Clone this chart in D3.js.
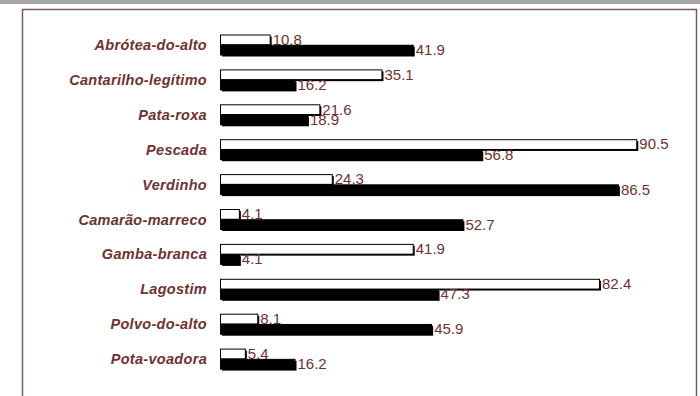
<!DOCTYPE html>
<html>
<head>
<meta charset="utf-8">
<script src="https://cdn.jsdelivr.net/npm/d3@7"></script>
<style>
  body { margin: 0; background: #fff; }
  svg { display: block; font-family: "Liberation Sans", Arial, sans-serif; }
</style>
</head>
<body>
<div id="chart"><svg></svg></div>
<script>
// categories and the two series (white and black bars)
const species = ['Abrótea-do-alto', 'Cantarilho-legítimo', 'Pata-roxa', 'Pescada', 'Verdinho',
  'Camarão-marreco', 'Gamba-branca', 'Lagostim', 'Polvo-do-alto', 'Pota-voadora'];
const whiteValues = [10.8, 35.1, 21.6, 90.5, 24.3, 4.1, 41.9, 82.4, 8.1, 5.4];
const blackValues = [41.9, 16.2, 18.9, 56.8, 86.5, 52.7, 4.1, 47.3, 45.9, 16.2];
const seriesKeys = ['white', 'black'];

const width = 700, height = 396;
const textColor = '#6e3232';

const svg = d3.select('#chart').select('svg')
  .attr('width', width)
  .attr('height', height);

// gray strip at the top + frame
svg.append('rect').attr('x', 0).attr('y', 0).attr('width', width).attr('height', 4).attr('fill', '#a5a5a5');
svg.append('rect')
  .attr('x', 22.5).attr('y', 9.5)
  .attr('width', 674).attr('height', 400)
  .attr('fill', 'none')
  .attr('stroke', '#7d5a5a')
  .attr('stroke-width', 1.5);

const data = species.map((s, i) => ({ name: s, white: whiteValues[i], black: blackValues[i] }));

const xScale = d3.scaleLinear().domain([0, 100]).range([220, 680]);
const yScale = d3.scaleBand().domain(species).range([28, 377]);
const ySub = d3.scaleBand().domain(seriesKeys).range([6.5, 27]);

// category labels
svg.append('g').selectAll('text')
  .data(data)
  .join('text')
  .attr('x', 207)
  .attr('y', d => yScale(d.name) + 17)
  .attr('dy', '0.35em')
  .attr('text-anchor', 'end')
  .style('font-size', '14.5px')
  .style('font-weight', 'bold')
  .style('font-style', 'italic')
  .style('letter-spacing', '0.3px')
  .style('fill', textColor)
  .text(d => d.name);

const groups = svg.append('g').selectAll('g')
  .data(data)
  .join('g')
  .attr('transform', d => `translate(0,${yScale(d.name)})`);

const bars = groups.selectAll('g')
  .data(d => seriesKeys.map(k => ({ key: k, value: d[k] })))
  .join('g');

// shadow
bars.append('rect')
  .attr('x', xScale(0) + 2)
  .attr('y', d => ySub(d.key) + 2)
  .attr('width', d => xScale(d.value) - xScale(0))
  .attr('height', ySub.bandwidth() - 0.5)
  .attr('fill', '#000');

bars.append('rect')
  .attr('x', xScale(0) + 0.5)
  .attr('y', d => ySub(d.key) + 0.5)
  .attr('width', d => xScale(d.value) - xScale(0))
  .attr('height', ySub.bandwidth() - 0.5)
  .attr('fill', d => d.key === 'white' ? '#fff' : '#000')
  .attr('stroke', '#000')
  .attr('stroke-width', 1);

// value labels
bars.append('text')
  .attr('x', d => xScale(d.value) + 3)
  .attr('y', d => ySub(d.key) + ySub.bandwidth())
  .style('font-size', '15px')
  .style('fill', textColor)
  .text(d => d3.format('.1f')(d.value));
</script>
</body>
</html>
